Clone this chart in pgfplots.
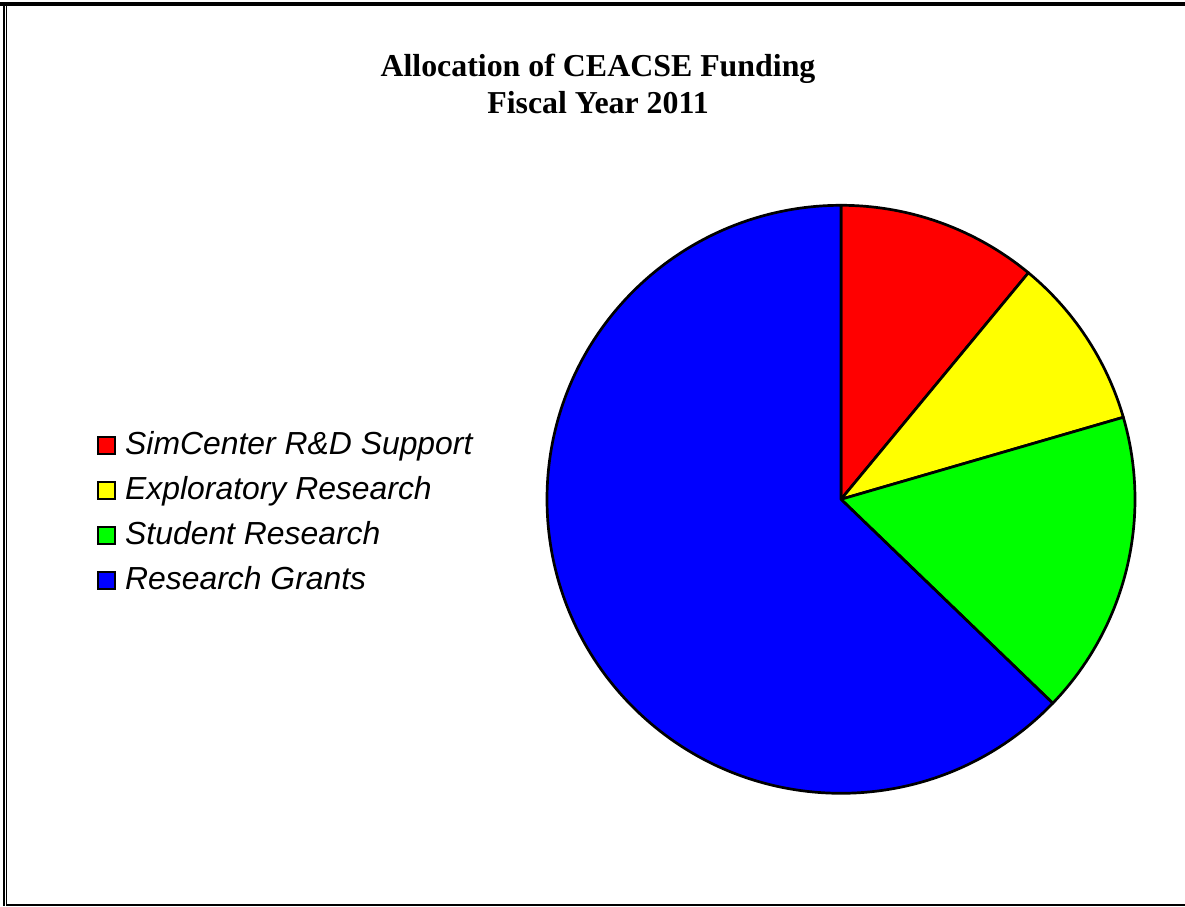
\documentclass[border=0pt]{standalone}
\usepackage{fontspec}
\setmainfont{Liberation Serif}
\setsansfont{Liberation Sans}
\usepackage{pgfplots}
\usepackage{pgfplotstable}
\pgfplotsset{compat=1.18}

\definecolor{pred}{RGB}{255,0,0}
\definecolor{pyellow}{RGB}{255,255,0}
\definecolor{pgreen}{RGB}{0,255,0}
\definecolor{pblue}{RGB}{0,0,255}

% funding shares (percent), clockwise from 12 o'clock
\pgfplotstableread{
share colour label
11.0  pred    {SimCenter R\&D Support}
9.5   pyellow {Exploratory Research}
16.7  pgreen  {Student Research}
62.8  pblue   {Research Grants}
}\funding

\begin{document}
\begin{tikzpicture}
\begin{axis}[
    scale only axis,
    width=1185bp, height=906bp,
    xmin=0, xmax=1185, ymin=0, ymax=906,
    hide axis,
    clip=false,
    legend style={
      at={(axis cs:97,476)}, anchor=north west,
      draw=none, fill=none, inner sep=0pt,
      font=\fontsize{32}{34}\selectfont\sffamily\itshape,
      row sep=14bp,
      nodes={inner sep=0pt, text height=24bp, text depth=7bp},
      /tikz/every odd column/.append style={column sep=9bp},
    },
    legend cell align=left,
    legend image code/.code={
      \draw[#1, line width=2bp] (0bp,-8bp) rectangle (17bp,9bp);
    },
  ]
  % page frame
  \path[use as bounding box] (axis cs:0,0) rectangle (axis cs:1185,906);
  \fill[black] (axis cs:0,900) rectangle (axis cs:1185,904);
  \fill[black] (axis cs:3,0) rectangle (axis cs:5,902);
  \fill[black] (axis cs:6,0) rectangle (axis cs:7.3,900);
  \fill[black] (axis cs:6,0) rectangle (axis cs:1185,1.8);

  % title
  \node[anchor=base, font=\fontsize{32}{36}\selectfont\bfseries]
    at (axis cs:598,829) {Allocation of CEACSE Funding};
  \node[anchor=base, font=\fontsize{32}{36}\selectfont\bfseries]
    at (axis cs:598,792) {Fiscal Year 2011};

  % pie slices
  \def\angA{90}
  \pgfplotsforeachungrouped \i in {0,...,3}{
    \pgfplotstablegetelem{\i}{share}\of\funding
    \let\v\pgfplotsretval
    \pgfplotstablegetelem{\i}{colour}\of\funding
    \let\c\pgfplotsretval
    \pgfmathsetmacro\angB{\angA - 3.6*\v}
    \edef\temp{\noexpand\draw[fill=\c, line width=2.7bp, line join=round]
      (axis cs:841,406.7) -- ++(\angA:294bp)
      arc[start angle=\angA, end angle=\angB, radius=294bp] -- cycle;}
    \temp
    \global\let\angA\angB
  }

  % legend
  \pgfplotsforeachungrouped \i in {0,...,3}{
    \pgfplotstablegetelem{\i}{colour}\of\funding
    \let\c\pgfplotsretval
    \pgfplotstablegetelem{\i}{label}\of\funding
    \let\l\pgfplotsretval
    \edef\temp{\noexpand\addlegendimage{fill=\c, draw=black}}
    \temp
    \expandafter\addlegendentry\expandafter{\l}
  }
\end{axis}
\end{tikzpicture}
\end{document}
